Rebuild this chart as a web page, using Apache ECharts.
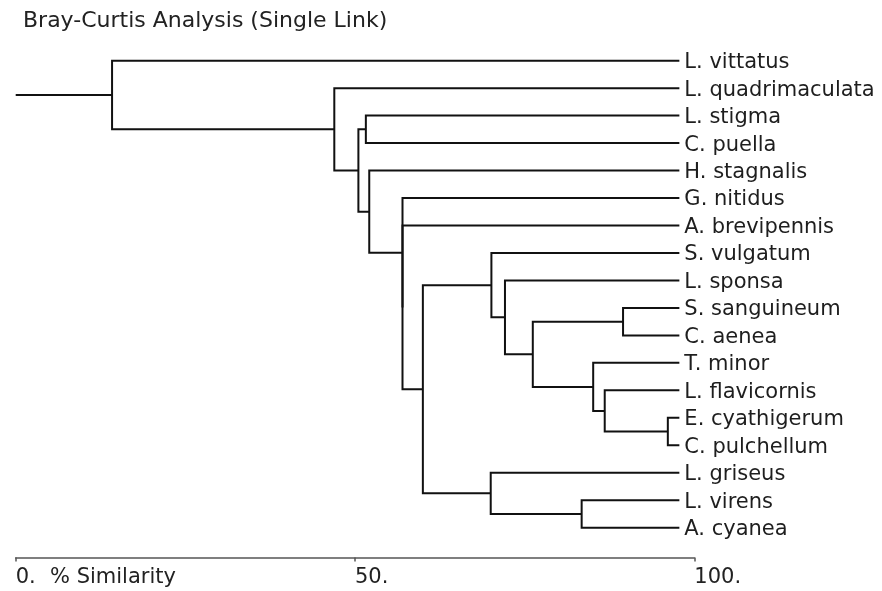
<!DOCTYPE html>
<html>
<head>
<meta charset="utf-8">
<script src="https://cdn.jsdelivr.net/npm/echarts@6/dist/echarts.min.js"></script>
<style>
html,body{margin:0;padding:0;background:#fff;}
#chart{width:882px;height:591px;}
</style>
</head>
<body>
<div id="chart"></div>
<script>
// Leaves, top to bottom
var leaves = ['L. vittatus','L. quadrimaculata','L. stigma','C. puella','H. stagnalis','G. nitidus','A. brevipennis','S. vulgatum','L. sponsa','S. sanguineum','C. aenea','T. minor','L. flavicornis','E. cyathigerum','C. pulchellum','L. griseus','L. virens','A. cyanea'];
// Merges (ids 0..17 are leaves; merge k gets id 18+k)
var mergeLeft  = [13, 9, 12, 11, 16, 19, 8, 7, 15, 25, 6, 5, 4, 2, 31, 1, 0];
var mergeRight = [14, 10, 18, 20, 17, 21, 23, 24, 22, 26, 27, 28, 29, 3, 30, 32, 33];
var mergeSimilarity = [96.1, 89.5, 86.8, 85.1, 83.4, 76.2, 72.1, 70.1, 70.0, 60.0, 57.0, 57.0, 52.1, 51.6, 50.5, 46.95, 14.2];
var leafEnd = 97.8;
var rootStart = 0;
var tickLabels = {0: '0.', 50: '50.', 100: '100.'};
var axisTitle = '% Similarity';
var chartTitle = 'Bray-Curtis Analysis (Single Link)';

var n = leaves.length;
var nodeX = [], nodeY = [];
for (var i = 0; i < n; i++) { nodeX.push(leafEnd); nodeY.push(i); }
var linkData = [];
for (var k = 0; k < mergeLeft.length; k++) {
  var a = mergeLeft[k], b = mergeRight[k], h = mergeSimilarity[k];
  linkData.push([h, nodeY[a], nodeX[a], nodeY[b], nodeX[b]]);
  nodeX.push(h);
  nodeY.push((nodeY[a] + nodeY[b]) / 2);
}
var rootId = nodeX.length - 1;
var rootData = [[rootStart, nodeY[rootId]], [nodeX[rootId], nodeY[rootId]]];
var labelData = leaves.map(function (name, i) { return [leafEnd, i, name]; });

var FONT = 'DejaVu Sans';
var chart = echarts.init(document.getElementById('chart'));
chart.setOption({
  animation: false,
  backgroundColor: '#fff',
  title: {
    text: chartTitle, left: 18, top: 5,
    textStyle: {fontFamily: FONT, fontSize: 22, fontWeight: 'normal', color: '#222'}
  },
  graphic: [{
    type: 'text', left: 50, top: 567,
    style: {text: axisTitle, font: '21px "DejaVu Sans"', fill: '#222'}
  }],
  grid: {left: 15.7, right: 187.7, top: 33.2, bottom: 33.5},
  xAxis: {
    type: 'value', min: 0, max: 100, interval: 50, position: 'bottom',
    axisLine: {show: true, onZero: false, lineStyle: {color: '#555', width: 1.5}},
    axisTick: {show: true, length: 4, lineStyle: {color: '#555', width: 1.5}},
    splitLine: {show: false},
    axisLabel: {
      formatter: function (v) { return tickLabels[v] || ''; },
      align: 'left', margin: 10,
      fontFamily: FONT, fontSize: 21, color: '#222'
    }
  },
  yAxis: {
    type: 'value', inverse: true, min: -1, max: 18.085, show: false
  },
  series: [
    {
      type: 'custom', clip: false,
      encode: {x: [0, 2, 4], y: [1, 3]},
      data: linkData,
      renderItem: function (params, api) {
        var h = api.value(0), ya = api.value(1), xa = api.value(2), yb = api.value(3), xb = api.value(4);
        var pts = [api.coord([xa, ya]), api.coord([h, ya]), api.coord([h, yb]), api.coord([xb, yb])];
        return {type: 'polyline', shape: {points: pts}, style: {stroke: '#111', lineWidth: 2, fill: null}};
      }
    },
    {
      type: 'line', data: rootData, symbol: 'none',
      lineStyle: {color: '#111', width: 2}
    },
    {
      type: 'custom', clip: false,
      encode: {x: 0, y: 1},
      data: labelData,
      renderItem: function (params, api) {
        var p = api.coord([api.value(0), api.value(1)]);
        return {
          type: 'text', x: p[0] + 5, y: p[1] + 2,
          style: {text: labelData[params.dataIndex][2], font: '21px "DejaVu Sans"', fill: '#1e1e1e',
                  textVerticalAlign: 'middle', verticalAlign: 'middle', textAlign: 'left', align: 'left'}
        };
      }
    }
  ]
});
</script>
</body>
</html>
